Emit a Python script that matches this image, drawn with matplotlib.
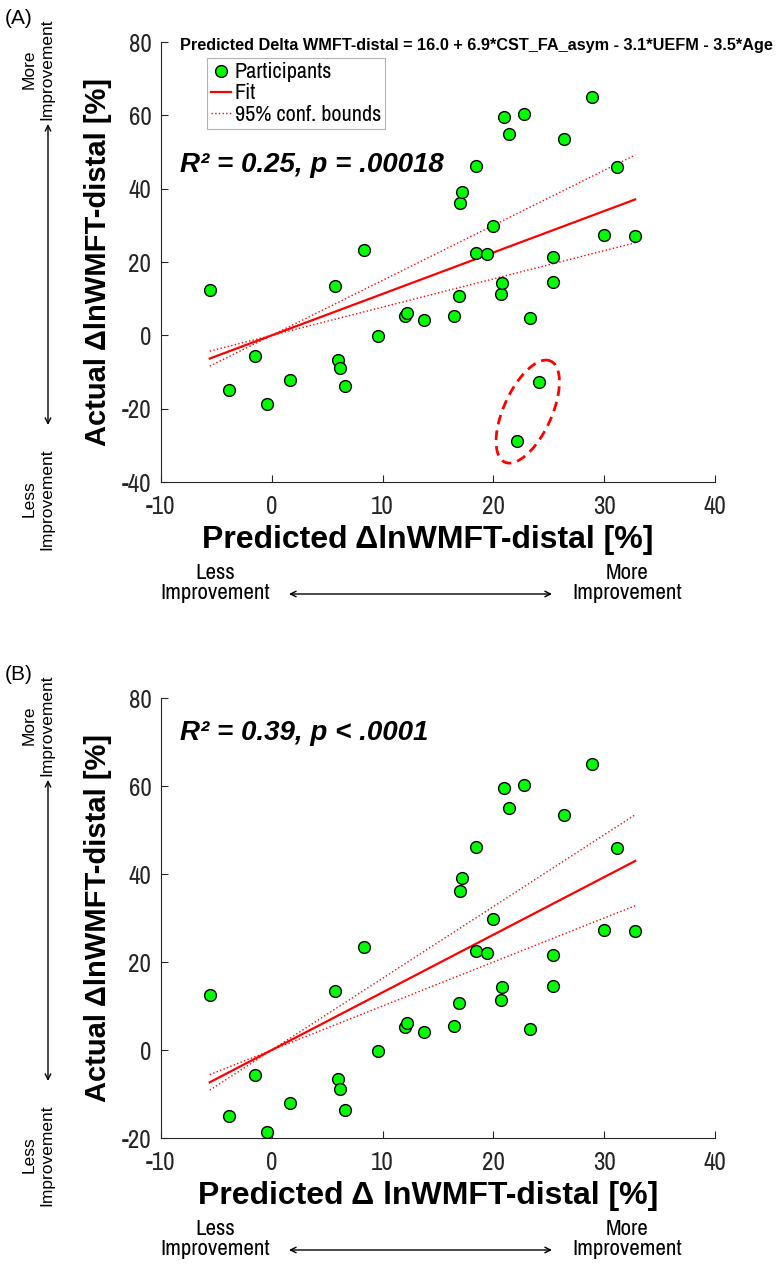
import numpy as np
import matplotlib.pyplot as plt
from matplotlib import font_manager

# participants kept in both panels: predicted vs actual change [%]
pred_b = [-5.6, -3.9, -1.5, -0.4, 1.6, 5.7, 6.0, 6.2, 6.6, 8.3, 9.6, 12.0, 12.2,
          13.7, 16.4, 16.9, 17.0, 17.2, 18.4, 18.4, 19.4, 20.0, 20.7, 20.8, 21.0,
          21.4, 22.8, 23.3, 25.4, 25.4, 26.4, 28.9, 30.0, 31.2, 32.8]
actual_b = [12.4, -15.0, -5.6, -18.7, -12.1, 13.4, -6.7, -8.9, -13.7, 23.3, -0.3, 5.3, 6.2,
            4.2, 5.4, 10.7, 36.2, 39.2, 46.2, 22.5, 22.1, 29.8, 11.3, 14.3, 59.6,
            54.9, 60.3, 4.7, 21.5, 14.5, 53.5, 64.9, 27.3, 45.9, 27.1]
# two circled participants, only in panel A
pred_out = [22.1, 24.1]
actual_out = [-28.9, -12.7]

pred_a = pred_b + pred_out
actual_a = actual_b + actual_out

# slope of fit through origin and its 95% bounds
slope_a = [1.13, 0.77, 1.50]
slope_b = [1.31, 1.00, 1.63]

stats_a = 'R² = 0.25, p = .00018'
stats_b = 'R² = 0.39, p < .0001'
model_txt = 'Predicted Delta WMFT-distal = 16.0 + 6.9*CST_FA_asym - 3.1*UEFM - 3.5*Age'

plt.rcParams['axes.unicode_minus'] = False

names = sorted({f.name for f in font_manager.fontManager.ttflist})
cond = [n for n in names if 'Narrow' in n or 'Condensed' in n]
wide = 'Liberation Sans' if 'Liberation Sans' in names else 'DejaVu Sans'
narrow = cond[0] if cond else wide

W, H = 783, 1265
fig = plt.figure(figsize=(W / 100, H / 100), dpi=100, facecolor='w')
gray = '#262626'


def fp(x, y):
    return (x / W, 1 - y / H)


def panel(top, pred, actual, slopes, stats, stats_y, xlab, ylim, circled=False):
    ax = fig.add_axes([161 / W, 1 - (top + 440) / H, 554 / W, 440 / H])
    ax.set_xlim(-10, 40)
    ax.set_ylim(*ylim)
    for s in ['top', 'right']:
        ax.spines[s].set_visible(False)
    for s in ['left', 'bottom']:
        ax.spines[s].set_color(gray)
        ax.spines[s].set_linewidth(0.8)
    ax.set_xticks(np.arange(-10, 41, 10))
    ax.set_yticks(np.arange(ylim[0], ylim[1] + 1, 20))
    ax.tick_params(direction='in', length=5, width=0.8, colors=gray, labelsize=18)
    ax.tick_params(axis='x', pad=9)
    ax.tick_params(axis='y', pad=7)
    for lab in ax.get_xticklabels() + ax.get_yticklabels():
        lab.set_fontname(narrow)

    h1, = ax.plot(pred, actual, 'o', ms=8.5, mfc='#00ff00', mec='k', mew=1.0,
                  ls='none', label='Participants', zorder=3)
    xs = np.array([min(pred), max(pred)])
    h2, = ax.plot(xs, slopes[0] * xs, '-', color='r', lw=1.6, label='Fit')
    h3, = ax.plot(xs, slopes[1] * xs, ':', color='r', lw=1.0, label='95% conf. bounds')
    ax.plot(xs, slopes[2] * xs, ':', color='r', lw=1.0)

    ax.text(0.035, (top + 440 - stats_y) / 440, stats, transform=ax.transAxes,
            fontsize=20, fontweight='bold', fontstyle='italic', family=wide,
            va='center', ha='left')

    ax.set_xlabel(xlab, fontsize=23, fontweight='bold', family=wide, va='center')
    ax.xaxis.set_label_coords(0.482, -58 / 440)
    ax.set_ylabel('Actual ΔlnWMFT-distal [%]', fontsize=21, fontweight='bold',
                  family=wide, va='center')
    ax.yaxis.set_label_coords(-63 / 554, 0.5)

    if circled:
        ax.legend(handles=[h1, h2, h3], loc='upper left', bbox_to_anchor=(0.083, 0.964),
                  borderaxespad=0, frameon=True, fancybox=False, edgecolor='#a0a0a0',
                  prop={'family': narrow, 'size': 16}, handlelength=0.9,
                  handletextpad=0.15, labelspacing=0.05, borderpad=0.2)
        ax.legend_.get_frame().set_linewidth(0.8)
        ax.text(0.034, 0.993, model_txt, transform=ax.transAxes, fontsize=11.7,
                fontweight='bold', family=wide, va='center', ha='left')
        # dashed ellipse round the two circled participants, drawn in pixel units
        sx = 554 / 50
        sy = 440 / (ylim[1] - ylim[0])
        t = np.linspace(0, 2 * np.pi, 200)
        a, b, ang = 55.5, 24.0, np.deg2rad(65.6)
        cx, cy = np.mean(pred_out), np.mean(actual_out)
        ex = cx + (a * np.cos(t) * np.cos(ang) - b * np.sin(t) * np.sin(ang)) / sx
        ey = cy + (a * np.cos(t) * np.sin(ang) + b * np.sin(t) * np.cos(ang)) / sy
        ax.plot(ex, ey, color='r', lw=2.0, ls=(0, (3.5, 2.2)))
    return ax


def arrow(p0, p1):
    fig.add_artist(plt.Annotation('', xy=fp(*p0), xytext=fp(*p1),
                                  xycoords='figure fraction', textcoords='figure fraction',
                                  arrowprops=dict(arrowstyle='<->', lw=1.0, color='k',
                                                  shrinkA=0, shrinkB=0)))


def side_notes(top, label):
    fig.text(*fp(5, top - 24), label, fontsize=15, family=wide, va='center', ha='left')
    fig.text(*fp(38, top + 27), 'More\nImprovement', rotation=90, fontsize=12.5,
             family=wide, va='center', ha='center', multialignment='center')
    fig.text(*fp(38, top + 457), 'Less\nImprovement', rotation=90, fontsize=12.5,
             family=wide, va='center', ha='center', multialignment='center')
    arrow((48, top + 82), (48, top + 383))
    fig.text(*fp(215, top + 541), 'Less\nImprovement', fontsize=16.5, family=narrow,
             va='center', ha='center', multialignment='center', linespacing=1.05)
    fig.text(*fp(627, top + 541), 'More\nImprovement', fontsize=16.5, family=narrow,
             va='center', ha='center', multialignment='center', linespacing=1.05)
    arrow((289, top + 552), (552, top + 552))


panel(42, pred_a, actual_a, slope_a, stats_a, 165,
      'Predicted ΔlnWMFT-distal [%]', (-40, 80), circled=True)
panel(698, pred_b, actual_b, slope_b, stats_b, 733,
      'Predicted Δ lnWMFT-distal [%]', (-20, 80))
side_notes(42, '(A)')
side_notes(698, '(B)')

fig.savefig('out.png', dpi=100, facecolor='w')
